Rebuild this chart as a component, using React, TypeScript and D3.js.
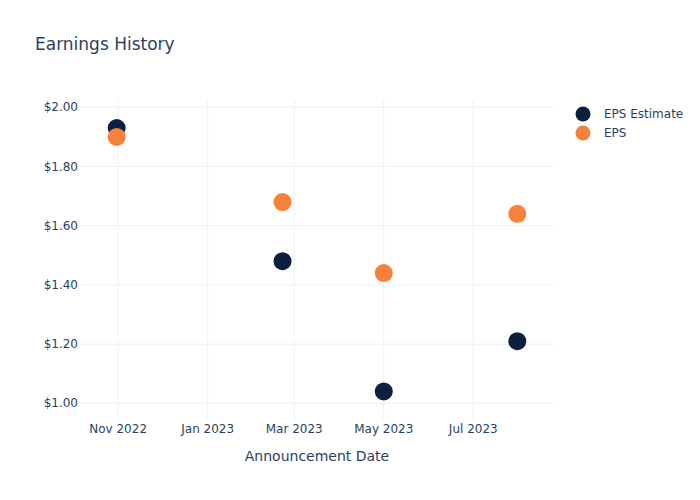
import React from "react";
import * as d3 from "d3";

const dates = ["2022-10-31", "2023-02-21", "2023-05-01", "2023-07-31"];
const epsEstimate = [1.93, 1.48, 1.04, 1.21];
const eps = [1.9, 1.68, 1.44, 1.64];
const yTicks = [1.0, 1.2, 1.4, 1.6, 1.8, 2.0];
const xTickDates = ["2022-11-01", "2023-01-01", "2023-03-01", "2023-05-01", "2023-07-01"];
const seriesNames = ["EPS Estimate", "EPS"];
const colors = ["#0c1f3f", "#f7803a"];

const W = 700, H = 500;
const L = 80, R = 554, T = 100, B = 420;
const font = "'DejaVu Sans', Verdana, sans-serif";
const textColor = "#2a3f5f";

export default function App() {
  const parse = d3.utcParse("%Y-%m-%d");
  const x = d3.scaleUtc()
    .domain([parse("2022-10-06")!, parse("2023-08-25")!])
    .range([L, R]);
  const y = d3.scaleLinear().domain([0.9436, 2.0247]).range([B, T]);
  const fmtX = d3.utcFormat("%b %Y");
  const series = [epsEstimate, eps];

  return (
    <svg width={W} height={H} style={{ position: "absolute", left: 0, top: 0, background: "#fff" }}>
      {xTickDates.map((d) => {
        const xx = x(parse(d)!);
        return (
          <g key={d}>
            <line x1={xx} x2={xx} y1={T} y2={B} stroke="#ebf0f8" strokeWidth={1} />
            <text x={xx} y={433} textAnchor="middle" fontFamily={font} fontSize={12} fill={textColor}>
              {fmtX(parse(d)!)}
            </text>
          </g>
        );
      })}
      {yTicks.map((v) => (
        <g key={v}>
          <line x1={L} x2={R} y1={y(v)} y2={y(v)} stroke="#ebf0f8" strokeWidth={1} />
          <text x={L - 2} y={y(v) + 4} textAnchor="end" fontFamily={font} fontSize={12} fill={textColor}>
            {"$" + v.toFixed(2)}
          </text>
        </g>
      ))}
      {series.map((vals, si) =>
        vals.map((v, i) => (
          <circle key={si + "-" + i} cx={x(parse(dates[i])!)} cy={y(v)} r={9} fill={colors[si]} />
        ))
      )}
      <text x={35} y={50} fontFamily={font} fontSize={17} fill={textColor}>Earnings History</text>
      <text x={(L + R) / 2} y={461} textAnchor="middle" fontFamily={font} fontSize={14} fill={textColor}>
        Announcement Date
      </text>
      {seriesNames.map((n, i) => (
        <g key={n}>
          <circle cx={583} cy={114 + i * 19} r={7.5} fill={colors[i]} />
          <text x={604} y={118 + i * 19} fontFamily={font} fontSize={12} fill={textColor}>{n}</text>
        </g>
      ))}
    </svg>
  );
}
